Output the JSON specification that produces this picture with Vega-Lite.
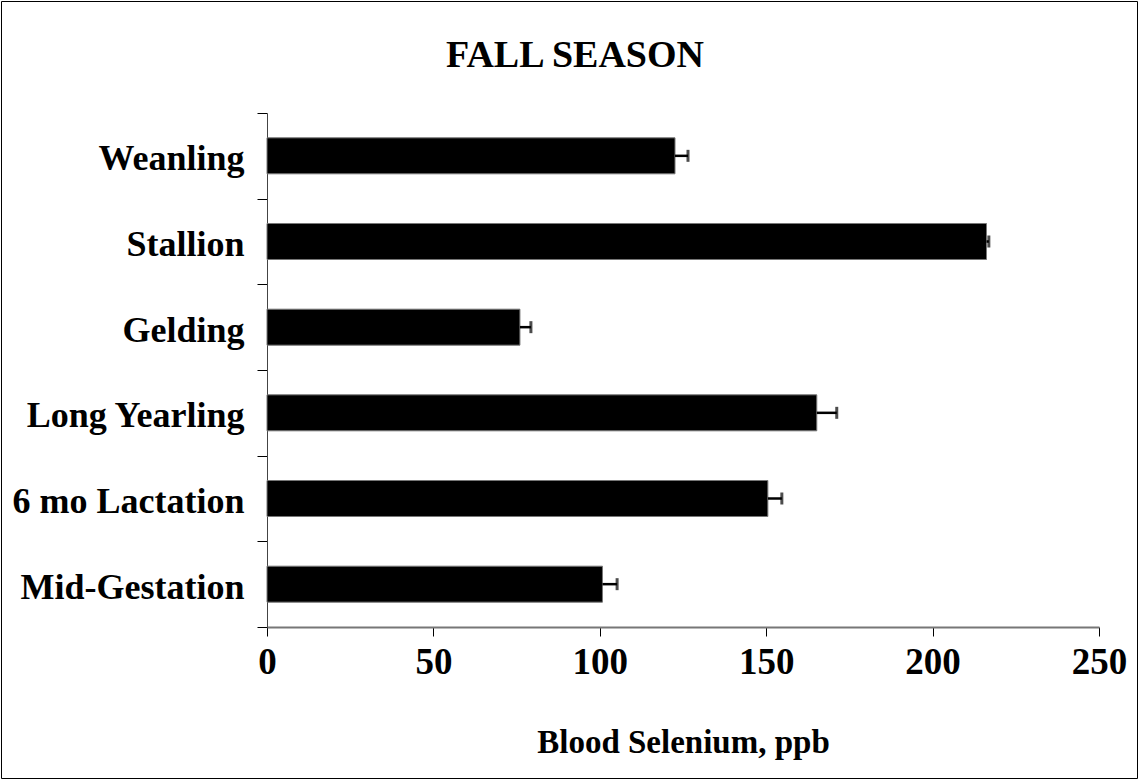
{
  "$schema": "https://vega.github.io/schema/vega-lite/v6.json",
  "width": 1136,
  "height": 777,
  "autosize": {"type": "none"},
  "padding": {"left": 1, "top": 1, "right": 1, "bottom": 1},
  "background": "white",
  "config": {
    "view": {"stroke": "black", "strokeWidth": 1},
    "font": "Liberation Serif"
  },
  "title": {
    "text": "FALL SEASON",
    "font": "Liberation Serif",
    "fontSize": 38,
    "fontWeight": "bold",
    "color": "black",
    "anchor": "middle",
    "frame": "group",
    "offset": -92,
    "dx": 6
  },
  "data": {
    "values": [
      {"group": "Weanling", "selenium": 122.6, "upper": 126.5},
      {"group": "Stallion", "selenium": 216.2, "upper": 216.9},
      {"group": "Gelding", "selenium": 76.0, "upper": 79.3},
      {"group": "Long Yearling", "selenium": 165.2, "upper": 171.2},
      {"group": "6 mo Lactation", "selenium": 150.5, "upper": 154.7},
      {"group": "Mid-Gestation", "selenium": 100.8, "upper": 105.2}
    ]
  },
  "encoding": {
    "y": {
      "field": "group",
      "type": "nominal",
      "sort": ["Weanling", "Stallion", "Gelding", "Long Yearling", "6 mo Lactation", "Mid-Gestation"],
      "scale": {"range": [112, 626], "paddingInner": 0, "paddingOuter": 0},
      "axis": {
        "title": null,
        "offset": -266,
        "tickBand": "extent",
        "tickSize": 10,
        "tickColor": "black",
        "tickWidth": 1,
        "domainColor": "#444444",
        "domainWidth": 1,
        "labelFont": "Liberation Serif",
        "labelFontSize": 36,
        "labelFontWeight": "bold",
        "labelColor": "black",
        "labelPadding": 13,
        "labelLimit": 400,
        "labelOffset": 3,
        "grid": false
      }
    }
  },
  "layer": [
    {
      "mark": {"type": "bar", "color": "black", "stroke": "#777777", "strokeWidth": 1, "height": {"band": 0.42}},
      "encoding": {
        "x": {
          "field": "selenium",
          "type": "quantitative",
          "scale": {"domain": [0, 250], "range": [266, 1098], "nice": false},
          "axis": {
            "title": "Blood Selenium, ppb",
            "offset": -151,
            "values": [0, 50, 100, 150, 200, 250],
            "tickSize": 9,
            "tickColor": "black",
            "tickWidth": 1,
            "domainColor": "#777777",
            "domainWidth": 2,
            "labelFont": "Liberation Serif",
            "labelFontSize": 37,
            "labelFontWeight": "bold",
            "labelColor": "black",
            "labelPadding": 8,
            "labelFlush": false,
            "titleFont": "Liberation Serif",
            "titleFontSize": 33,
            "titleFontWeight": "bold",
            "titleColor": "black",
            "titlePadding": 46,
            "grid": false
          }
        }
      }
    },
    {
      "mark": {"type": "rule", "color": "black", "strokeWidth": 2.5},
      "encoding": {
        "x": {"field": "selenium", "type": "quantitative"},
        "x2": {"field": "upper"}
      }
    },
    {
      "mark": {"type": "tick", "orient": "vertical", "color": "black", "size": 12, "thickness": 3},
      "encoding": {
        "x": {"field": "upper", "type": "quantitative"}
      }
    }
  ]
}
